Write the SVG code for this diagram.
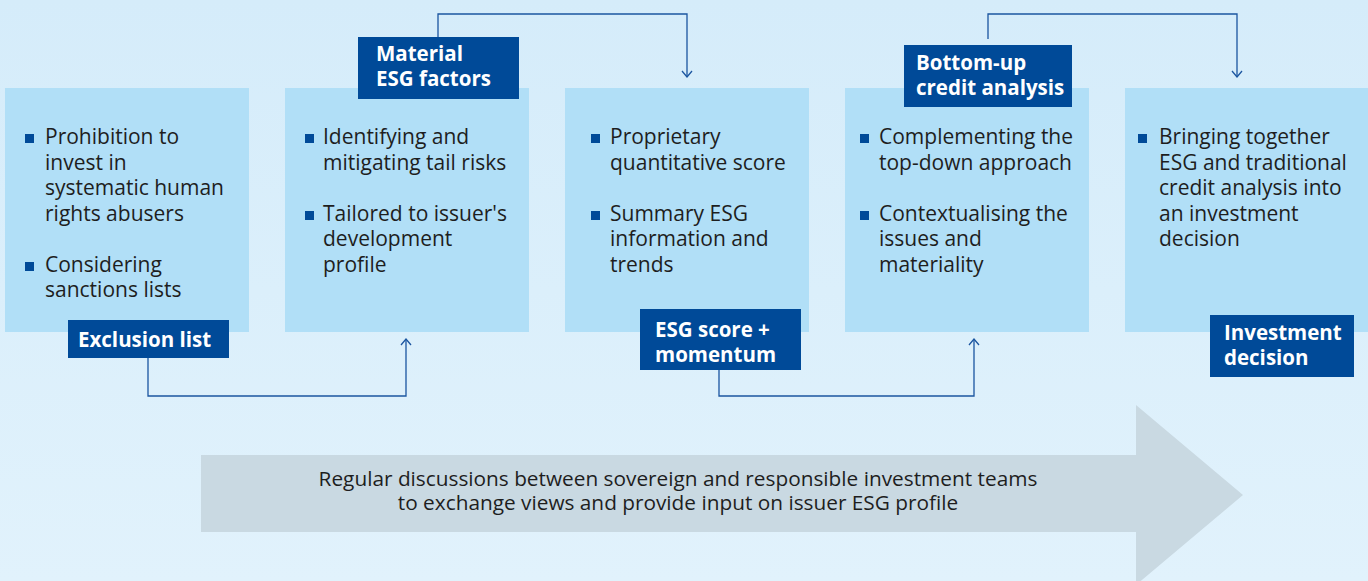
<svg xmlns="http://www.w3.org/2000/svg" width="1368" height="581" viewBox="0 0 1368 581">
<defs>
<linearGradient id="bg" x1="0" y1="0" x2="0" y2="1">
<stop offset="0" stop-color="#d5ecfa"/>
<stop offset="1" stop-color="#e1f2fc"/>
</linearGradient>
<marker id="ah" viewBox="0 0 12 12" refX="11" refY="6" markerWidth="12" markerHeight="12" markerUnits="userSpaceOnUse" orient="auto">
<path d="M5,1 L11,6 L5,11" fill="none" stroke="#1b55a0" stroke-width="1.3"/>
</marker>
<style>
.box{fill:#b1dff7}
.lab{fill:#004a98}
.bul{fill:#004a98}
.t{font-family:"Open Sans","Liberation Sans",sans-serif;font-size:21px;fill:#1e1e1e}
.lt{font-family:"Open Sans","Liberation Sans",sans-serif;font-size:20.5px;font-weight:700;fill:#ffffff}
.con{fill:none;stroke:#1b55a0;stroke-width:1.3}
.at{font-family:"Open Sans","Liberation Sans",sans-serif;font-size:20.8px;fill:#1e1e1e}
</style>
</defs>
<rect width="1368" height="581" fill="url(#bg)"/>
<g id="band-arrow">
<path d="M201,455 H1136 V405 L1243,495 L1136,585 V532 H201 Z" fill="#c9d9e2"/>
<text class="at" text-anchor="middle"><tspan x="678" y="486">Regular discussions between sovereign and responsible investment teams</tspan><tspan x="678" y="510">to exchange views and provide input on issuer ESG profile</tspan></text>
</g>
<g id="connectors">
<path class="con" d="M148,358 V396 H406 V339" marker-end="url(#ah)"/>
<path class="con" d="M438,37 V14 H687 V77" marker-end="url(#ah)"/>
<path class="con" d="M719,370 V396 H974 V339" marker-end="url(#ah)"/>
<path class="con" d="M988,39 V14 H1237 V77" marker-end="url(#ah)"/>
</g>
<g id="exclusion">
<rect class="box" x="5" y="88" width="244" height="244"/>
<rect class="bul" x="25" y="134" width="9" height="9"/>
<text class="t"><tspan x="45" y="144">Prohibition to</tspan><tspan x="45" y="170">invest in</tspan><tspan x="45" y="195">systematic human</tspan><tspan x="45" y="221">rights abusers</tspan></text>
<rect class="bul" x="25" y="262" width="9" height="9"/>
<text class="t"><tspan x="45" y="272">Considering</tspan><tspan x="45" y="297">sanctions lists</tspan></text>
<rect class="lab" x="68" y="320" width="161" height="38"/>
<text class="lt" x="78" y="347">Exclusion list</text>
</g>
<g id="material">
<rect class="box" x="285" y="88" width="244" height="244"/>
<rect class="bul" x="305" y="134" width="9" height="9"/>
<text class="t"><tspan x="323" y="144">Identifying and</tspan><tspan x="323" y="170">mitigating tail risks</tspan></text>
<rect class="bul" x="305" y="211" width="9" height="9"/>
<text class="t"><tspan x="323" y="221">Tailored to issuer's</tspan><tspan x="323" y="246">development</tspan><tspan x="323" y="272">profile</tspan></text>
<rect class="lab" x="358" y="37" width="161" height="62"/>
<text class="lt"><tspan x="376" y="61">Material</tspan><tspan x="376" y="86">ESG factors</tspan></text>
</g>
<g id="esgscore">
<rect class="box" x="565" y="88" width="244" height="244"/>
<rect class="bul" x="591" y="134" width="9" height="9"/>
<text class="t"><tspan x="610" y="144">Proprietary</tspan><tspan x="610" y="170">quantitative score</tspan></text>
<rect class="bul" x="591" y="211" width="9" height="9"/>
<text class="t"><tspan x="610" y="221">Summary ESG</tspan><tspan x="610" y="246">information and</tspan><tspan x="610" y="272">trends</tspan></text>
<rect class="lab" x="640" y="309" width="161" height="61"/>
<text class="lt"><tspan x="655" y="337">ESG score +</tspan><tspan x="655" y="362">momentum</tspan></text>
</g>
<g id="bottomup">
<rect class="box" x="845" y="88" width="244" height="244"/>
<rect class="bul" x="860" y="134" width="9" height="9"/>
<text class="t"><tspan x="879" y="144">Complementing the</tspan><tspan x="879" y="170">top-down approach</tspan></text>
<rect class="bul" x="860" y="211" width="9" height="9"/>
<text class="t"><tspan x="879" y="221">Contextualising the</tspan><tspan x="879" y="246">issues and</tspan><tspan x="879" y="272">materiality</tspan></text>
<rect class="lab" x="904" y="45" width="168" height="62"/>
<text class="lt"><tspan x="916" y="70">Bottom-up</tspan><tspan x="916" y="95">credit analysis</tspan></text>
</g>
<g id="investment">
<rect class="box" x="1125" y="88" width="243" height="244"/>
<rect class="bul" x="1138" y="134" width="9" height="9"/>
<text class="t"><tspan x="1159" y="144">Bringing together</tspan><tspan x="1159" y="170">ESG and traditional</tspan><tspan x="1159" y="195">credit analysis into</tspan><tspan x="1159" y="221">an investment</tspan><tspan x="1159" y="246">decision</tspan></text>
<rect class="lab" x="1210" y="315" width="144" height="62"/>
<text class="lt"><tspan x="1224" y="340">Investment</tspan><tspan x="1224" y="365">decision</tspan></text>
</g>
</svg>
